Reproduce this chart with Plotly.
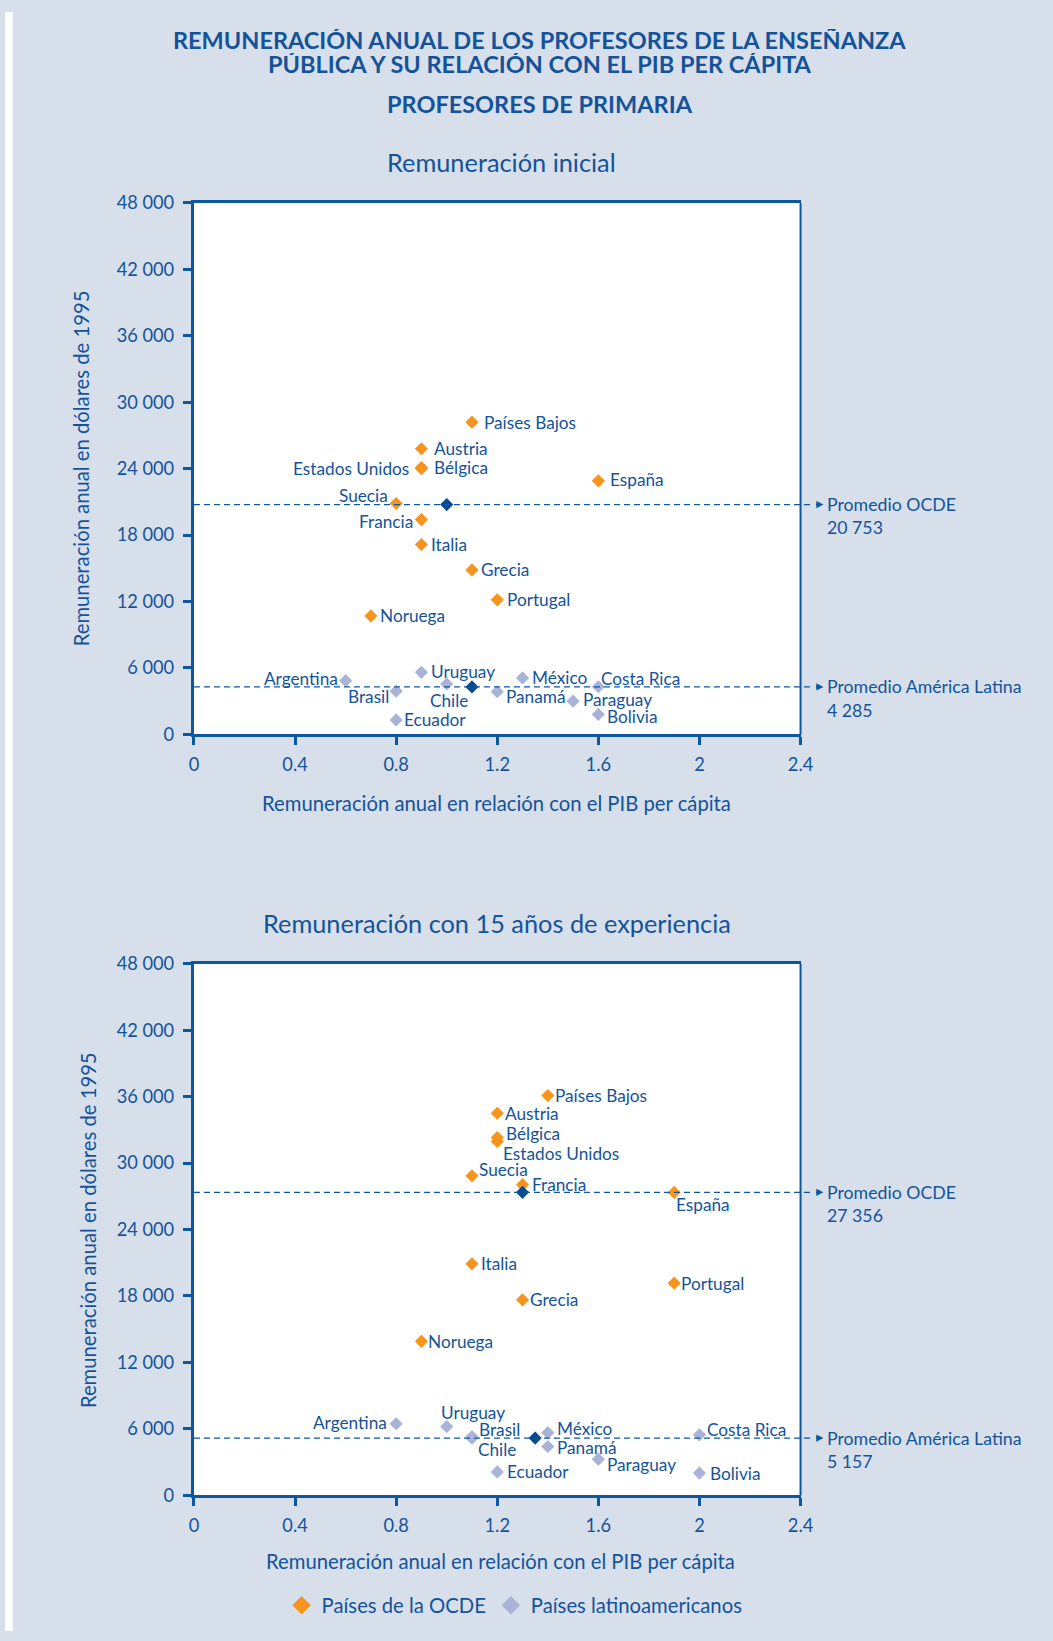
import plotly.graph_objects as go

# Target positions are given in reference pixels (1053 x 1641).
W, H = 1053, 1641
# measured mapping of the photographed page: shown = A + S * page
AX, AY, S = 3.3, 11.0, 0.9868

# ---------------- data ----------------
x_tickvals = [0, 0.4, 0.8, 1.2, 1.6, 2.0, 2.4]
x_ticktext = ["0", "0.4", "0.8", "1.2", "1.6", "2", "2.4"]
y_tickvals = [0, 6000, 12000, 18000, 24000, 30000, 36000, 42000, 48000]
y_ticktext = ["0", "6 000", "12 000", "18 000", "24 000", "30 000", "36 000", "42 000", "48 000"]

# Remuneración inicial
ini_ocde_names = ["Países Bajos", "Austria", "Bélgica", "Estados Unidos", "España", "Suecia",
                  "Francia", "Italia", "Grecia", "Portugal", "Noruega"]
ini_ocde_x = [1.1, 0.9, 0.9, 0.9, 1.6, 0.8, 0.9, 0.9, 1.1, 1.2, 0.7]
ini_ocde_y = [28200, 25800, 24100, 24000, 22900, 20850, 19400, 17150, 14850, 12150, 10700]
ini_lat_names = ["Argentina", "Uruguay", "Chile", "Brasil", "Panamá", "México",
                 "Costa Rica", "Paraguay", "Bolivia", "Ecuador"]
ini_lat_x = [0.6, 0.9, 1.0, 0.8, 1.2, 1.3, 1.6, 1.5, 1.6, 0.8]
ini_lat_y = [4850, 5600, 4550, 3900, 3850, 5100, 4300, 3000, 1800, 1300]
ini_avg_x = [1.0, 1.1]
ini_avg_y = [20753, 4285]

# Remuneración con 15 años de experiencia
exp_ocde_names = ["Países Bajos", "Austria", "Bélgica", "Estados Unidos", "Suecia", "Francia",
                  "España", "Italia", "Portugal", "Grecia", "Noruega"]
exp_ocde_x = [1.4, 1.2, 1.2, 1.2, 1.1, 1.3, 1.9, 1.1, 1.9, 1.3, 0.9]
exp_ocde_y = [36100, 34500, 32300, 31950, 28850, 28050, 27350, 20900, 19150, 17650, 13900]
exp_lat_names = ["Argentina", "Uruguay", "Brasil", "Chile", "México", "Panamá",
                 "Costa Rica", "Paraguay", "Ecuador", "Bolivia"]
exp_lat_x = [0.8, 1.0, 1.1, 1.1, 1.4, 1.4, 2.0, 1.6, 1.2, 2.0]
exp_lat_y = [6450, 6200, 5300, 5150, 5650, 4400, 5450, 3250, 2100, 2000]
exp_avg_x = [1.3, 1.35]
exp_avg_y = [27356, 5157]

avg_labels = ["Promedio OCDE", "Promedio América Latina"]
ini_avg_text = ["20 753", "4 285"]
exp_avg_text = ["27 356", "5 157"]

# ---------------- label placement (anchor, dx px, dy px) ----------------
ini_place = {
    "Países Bajos": ("left", 10, 0), "Austria": ("left", 10, 0), "Bélgica": ("left", 10, 0),
    "Estados Unidos": ("right", -10, 0), "España": ("left", 10, 1), "Suecia": ("right", -6, 8),
    "Francia": ("right", -6, -2), "Italia": ("left", 7, 0), "Grecia": ("left", 7, 0),
    "Portugal": ("left", 8, 0), "Noruega": ("left", 7, 0),
    "Argentina": ("right", -6, 2), "Uruguay": ("left", 7, 1), "Chile": ("center", 2, -16),
    "Brasil": ("right", -5, -5), "Panamá": ("left", 7, -5), "México": ("left", 7, 0),
    "Costa Rica": ("left", 1, 8), "Paraguay": ("left", 8, 2), "Bolivia": ("left", 7, -2),
    "Ecuador": ("left", 6, 0),
}
exp_place = {
    "Países Bajos": ("left", 5, 0), "Austria": ("left", 6, 0), "Bélgica": ("left", 7, 4),
    "Estados Unidos": ("left", 4, -12), "Suecia": ("left", 5, 6), "Francia": ("left", 7, 0),
    "España": ("left", 0, -12), "Italia": ("left", 7, 0), "Portugal": ("left", 5, 0),
    "Grecia": ("left", 5, 0), "Noruega": ("left", 5, 0),
    "Argentina": ("right", -7, 1), "Uruguay": ("left", -8, 14), "Brasil": ("left", 5, 7),
    "Chile": ("left", 4, -11), "México": ("left", 7, 4), "Panamá": ("left", 7, -1),
    "Costa Rica": ("left", 5, 5), "Paraguay": ("left", 7, -5), "Ecuador": ("left", 8, 0),
    "Bolivia": ("left", 8, 0),
}

# ---------------- styles ----------------
FONT = "Lato, 'DejaVu Sans', sans-serif"
TXT = "#14539a"
AXC = "#0c56a2"
ORANGE = "#f7941d"
LILAC = "#a9b3d8"
AVGC = "#0b4a8e"
PANEL = "#d7dfeb"


def px(x):
    return ((x - AX) / S) / W


def py(y):
    return 1 - ((y - AY) / S) / H


def sz(v):
    return v / S


XL, XR = 193, 802
TOP1, BOT1 = 202, 733.5
TOP2, BOT2 = 963, 1494.5

fig = go.Figure()
annotations = []
shapes = []

panels = [
    dict(xa="x", ya="y", on=ini_ocde_names, ox=ini_ocde_x, oy=ini_ocde_y,
         ln=ini_lat_names, lx=ini_lat_x, ly=ini_lat_y, ax_=ini_avg_x, ay_=ini_avg_y,
         at=ini_avg_text, place=ini_place),
    dict(xa="x2", ya="y2", on=exp_ocde_names, ox=exp_ocde_x, oy=exp_ocde_y,
         ln=exp_lat_names, lx=exp_lat_x, ly=exp_lat_y, ax_=exp_avg_x, ay_=exp_avg_y,
         at=exp_avg_text, place=exp_place),
]

for p in panels:
    fig.add_trace(go.Scatter(x=p["ox"], y=p["oy"], mode="markers", xaxis=p["xa"], yaxis=p["ya"],
                             marker=dict(symbol="diamond", size=sz(10), color=ORANGE),
                             showlegend=False, hoverinfo="skip"))
    fig.add_trace(go.Scatter(x=p["lx"], y=p["ly"], mode="markers", xaxis=p["xa"], yaxis=p["ya"],
                             marker=dict(symbol="diamond", size=sz(10), color=LILAC),
                             showlegend=False, hoverinfo="skip"))
    fig.add_trace(go.Scatter(x=p["ax_"], y=p["ay_"], mode="markers", xaxis=p["xa"], yaxis=p["ya"],
                             marker=dict(symbol="diamond", size=sz(10), color=AVGC),
                             showlegend=False, hoverinfo="skip"))
    for names, xs, ys in [(p["on"], p["ox"], p["oy"]), (p["ln"], p["lx"], p["ly"])]:
        for n, xv, yv in zip(names, xs, ys):
            anc, dx, dy = p["place"][n]
            annotations.append(dict(x=xv, y=yv, xref=p["xa"], yref=p["ya"], text=n,
                                    showarrow=False, xanchor=anc, yanchor="middle",
                                    xshift=sz(dx), yshift=sz(dy),
                                    font=dict(size=sz(17), color=TXT, family=FONT)))
    for lab, val, vtxt in zip(avg_labels, p["ay_"], p["at"]):
        shapes.append(dict(type="line", xref="paper", yref=p["ya"], x0=px(XL), x1=px(814),
                           y0=val, y1=val, line=dict(color=AXC, width=1.3, dash="6px,4px")))
        annotations.append(dict(x=px(825), y=val, xref="paper", yref=p["ya"], text="",
                                showarrow=True, ax=-9, ay=0, arrowhead=2, arrowsize=1.1,
                                arrowwidth=1.3, arrowcolor=AXC, standoff=0))
        annotations.append(dict(x=px(827), y=val, xref="paper", yref=p["ya"], text=lab,
                                showarrow=False, xanchor="left", yanchor="middle",
                                font=dict(size=sz(17.5), color=TXT, family=FONT)))
        annotations.append(dict(x=px(827), y=val, xref="paper", yref=p["ya"], text=vtxt,
                                showarrow=False, xanchor="left", yanchor="middle", yshift=sz(-23),
                                font=dict(size=sz(17.5), color=TXT, family=FONT)))
    shapes.append(dict(type="line", xref=p["xa"] + " domain", yref=p["ya"] + " domain",
                       x0=1, x1=1, y0=0, y1=1, line=dict(color=AXC, width=2)))

# legend entries
fig.add_trace(go.Scatter(x=[None], y=[None], mode="markers", xaxis="x2", yaxis="y2",
                         name="Países de la OCDE",
                         marker=dict(symbol="diamond", size=sz(14), color=ORANGE)))
fig.add_trace(go.Scatter(x=[None], y=[None], mode="markers", xaxis="x2", yaxis="y2",
                         name="Países latinoamericanos",
                         marker=dict(symbol="diamond", size=sz(14), color=LILAC)))


def ann(text, x, y, size, bold=False, angle=0, height=None):
    t = "<b>%s</b>" % text if bold else text
    d = dict(x=px(x), y=py(y), xref="paper", yref="paper", text=t,
             showarrow=False, xanchor="center", yanchor="middle", textangle=angle,
             font=dict(size=sz(size), color=TXT, family=FONT))
    if height:
        d["height"] = height
    annotations.append(d)


ann("REMUNERACIÓN ANUAL DE LOS PROFESORES DE LA ENSEÑANZA", 540, 39, 23.2, True, height=22)
ann("PÚBLICA Y SU RELACIÓN CON EL PIB PER CÁPITA", 540, 63, 23.2, True, height=22)
ann("PROFESORES DE PRIMARIA", 540, 103, 23.2, True)
ann("Remuneración inicial", 502, 161, 25)
ann("Remuneración con 15 años de experiencia", 497, 922, 25)
ann("Remuneración anual en relación con el PIB per cápita", 497, 802, 20)
ann("Remuneración anual en relación con el PIB per cápita", 501, 1560, 20)
ann("Remuneración anual en dólares de 1995", 80, 467, 20, angle=-90)
ann("Remuneración anual en dólares de 1995", 86, 1229, 20, angle=-90)

# white margin strip on the left
shapes.append(dict(type="rect", xref="paper", yref="paper", x0=0, x1=px(11), y0=0, y1=1,
                   fillcolor="white", line=dict(width=0), layer="below"))

axis_common = dict(showgrid=False, zeroline=False, showline=True, linewidth=3, linecolor=AXC,
                   ticks="outside", ticklen=sz(8), tickwidth=3, tickcolor=AXC,
                   tickfont=dict(size=sz(18), color=TXT, family=FONT), fixedrange=True)

xa = dict(axis_common, range=[0, 2.4], tickvals=x_tickvals, ticktext=x_ticktext,
          domain=[px(XL), px(XR)], mirror=True, ticklabelstandoff=4)
ya = dict(axis_common, range=[0, 48000], tickvals=y_tickvals, ticktext=y_ticktext,
          ticklabelstandoff=5)

fig.update_layout(
    autosize=True,
    margin=dict(l=0, r=0, t=0, b=0, pad=0),
    paper_bgcolor=PANEL, plot_bgcolor="white",
    font=dict(family=FONT, color=TXT),
    xaxis=dict(xa, anchor="y"),
    yaxis=dict(ya, anchor="x", domain=[py(BOT1), py(TOP1)]),
    xaxis2=dict(xa, anchor="y2"),
    yaxis2=dict(ya, anchor="x2", domain=[py(BOT2), py(TOP2)]),
    annotations=annotations,
    shapes=shapes,
    showlegend=True,
    legend=dict(orientation="h", x=px(281), y=py(1605), xanchor="left", yanchor="middle",
                bgcolor="rgba(0,0,0,0)", font=dict(size=sz(20), color=TXT, family=FONT),
                itemclick=False, itemdoubleclick=False),
)

page_js = (
    "var h=document.documentElement, b=document.body;"
    "b.style.margin='0'; b.style.overflow='hidden'; b.style.background='transparent';"
    "h.style.backgroundColor='%s';"
    "h.style.backgroundImage='linear-gradient(#ffffff,#ffffff),linear-gradient(#ffffff,#ffffff)';"
    "h.style.backgroundSize='100%% 11px, 11px 100%%';"
    "h.style.backgroundPosition='0 0, 0 0';"
    "h.style.backgroundRepeat='no-repeat';"
) % PANEL

fig.write_html("out.html", default_width="100vw", default_height="100vh",
               config={"displayModeBar": False, "responsive": True},
               post_script=page_js)
